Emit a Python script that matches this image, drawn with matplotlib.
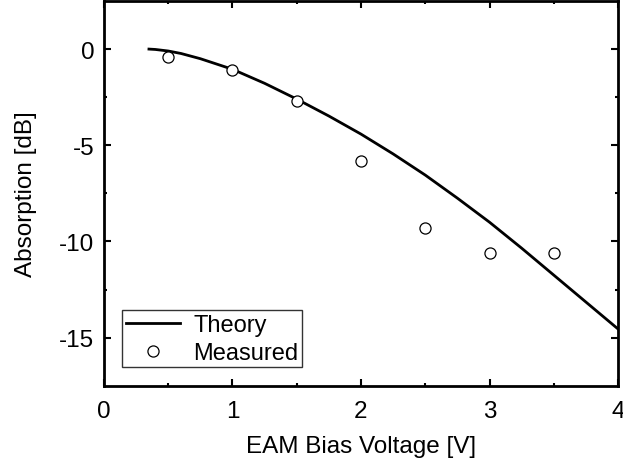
import numpy as np
import matplotlib.pyplot as plt

plt.rcParams['font.family'] = ['Liberation Sans', 'DejaVu Sans']

# theory curve
theory_v = [0.35, 0.4, 0.5, 0.6, 0.75, 1.0, 1.25, 1.5, 1.75, 2.0, 2.25, 2.5, 2.75, 3.0, 3.25, 3.5, 3.75, 4.0]
theory_db = [0.0, -0.02, -0.1, -0.23, -0.5, -1.05, -1.78, -2.6, -3.48, -4.42, -5.45, -6.55, -7.75, -9.0,
             -10.35, -11.75, -13.15, -14.55]

# measured points
meas_v = [0.5, 1.0, 1.5, 2.0, 2.5, 3.0, 3.5]
meas_db = [-0.4, -1.1, -2.7, -5.8, -9.3, -10.6, -10.6]

fig = plt.figure(figsize=(6.23, 4.64), dpi=100)
ax = fig.add_axes([0.1669, 0.1666, 0.992 - 0.1669, 0.9957 - 0.1666])

ax.plot(theory_v, theory_db, color='black', lw=2, label='Theory')
ax.plot(meas_v, meas_db, ls='none', marker='o', ms=8, mfc='white', mec='black',
        mew=0.9, label='Measured')

ax.set_xlim(0, 4)
ax.set_ylim(-17.5, 2.5)
ax.set_xticks([0, 1, 2, 3, 4])
ax.set_xticks(np.arange(0.5, 4, 1.0), minor=True)
ax.set_yticks([-15, -10, -5, 0])
ax.set_yticks([-12.5, -7.5, -2.5], minor=True)
ax.set_yticklabels(['-15', '-10', '-5', '0'])

for s in ax.spines.values():
    s.set_linewidth(2)
ax.tick_params(which='both', direction='in', top=True, right=True, labelsize=17.5)
ax.tick_params(which='major', length=5, width=1.5, pad=7)
ax.tick_params(which='minor', length=2.5, width=1.5)
ax.tick_params(axis='x', which='major', pad=10)

ax.set_xlabel('EAM Bias Voltage [V]', fontsize=17.5, labelpad=10)
ax.set_ylabel('Absorption [dB]', fontsize=17.5, labelpad=16)

leg = ax.legend(loc='lower left', bbox_to_anchor=(0.0356, 0.0478), borderaxespad=0,
                fontsize=17, frameon=True, fancybox=False, edgecolor='black',
                borderpad=0.15, labelspacing=0.25, handlelength=2.3, handletextpad=0.55)
leg.get_frame().set_linewidth(1)

fig.savefig('out.png', dpi=100)
